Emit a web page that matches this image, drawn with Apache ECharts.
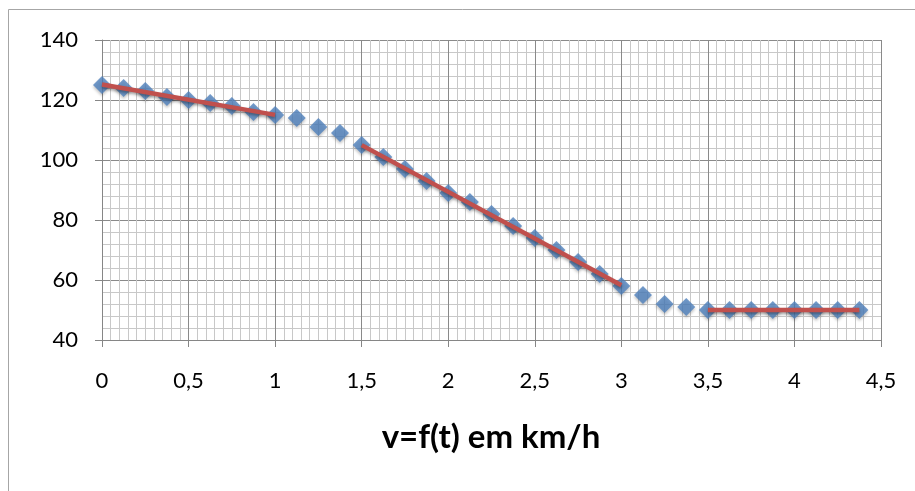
<!DOCTYPE html>
<html lang="pt">

<head>
    <meta charset="UTF-8">
    <title>v=f(t) em km/h</title>
    <script src="https://cdn.jsdelivr.net/npm/echarts@6.0.0/dist/echarts.min.js"></script>
    <style>
        body { margin: 0; background: #fff; }
    </style>
</head>

<body>
    <div id="main" style="width: 915px;height:491px;"></div>

    <script type="text/javascript">
        // tempo (s) e velocidade (km/h)
        const tempos = [0, 0.125, 0.25, 0.375, 0.5, 0.625, 0.75, 0.875, 1,
            1.125, 1.25, 1.375, 1.5, 1.625, 1.75, 1.875, 2,
            2.125, 2.25, 2.375, 2.5, 2.625, 2.75, 2.875, 3,
            3.125, 3.25, 3.375, 3.5, 3.625, 3.75, 3.875, 4,
            4.125, 4.25, 4.375];
        const velocidades = [125, 124, 123, 121, 120, 119, 118, 116, 115,
            114, 111, 109, 105, 101, 97, 93, 89,
            86, 82, 78, 74, 70, 66, 62, 58,
            55, 52, 51, 50, 50, 50, 50, 50,
            50, 50, 50];
        // trechos com linha de tendência (início e fim em segundos)
        const trechos = [[0, 1], [1.5, 3], [3.5, 4.375]];

        const pontos = tempos.map((t, i) => [t, velocidades[i]]);

        // regressão linear simples em cada trecho
        function tendencia(ini, fim) {
            const sel = pontos.filter(p => p[0] >= ini && p[0] <= fim);
            const n = sel.length;
            const mx = sel.reduce((s, p) => s + p[0], 0) / n;
            const my = sel.reduce((s, p) => s + p[1], 0) / n;
            let num = 0, den = 0;
            sel.forEach(p => { num += (p[0] - mx) * (p[1] - my); den += (p[0] - mx) ** 2; });
            const a = den ? num / den : 0;
            const b = my - a * mx;
            return [[ini, a * ini + b], [fim, a * fim + b]];
        }

        const fonte = 'Lato';
        const virgula = v => String(v).replace('.', ',');

        const chart = echarts.init(document.getElementById('main'));

        const linhas = trechos.map(tr => ({
            type: 'line',
            data: tendencia(tr[0], tr[1]),
            showSymbol: false,
            silent: true,
            z: 3,
            lineStyle: {
                color: '#C0504D',
                width: 4.5,
                shadowColor: 'rgba(0,0,0,0.35)',
                shadowBlur: 3,
                shadowOffsetY: 2
            }
        }));

        const option = {
            animation: false,
            grid: { left: 102, top: 40, width: 779, height: 300 },
            xAxis: {
                type: 'value',
                min: 0, max: 4.5, interval: 0.5,
                axisLine: { show: true, onZero: false, lineStyle: { color: '#868686' } },
                axisTick: { show: true, length: 7, lineStyle: { color: '#868686' } },
                axisLabel: { color: '#000', fontFamily: fonte, fontSize: 22, margin: 30, formatter: virgula },
                splitLine: { show: true, lineStyle: { color: '#8a8a8a' } },
                minorSplitLine: { show: true, lineStyle: { color: '#c8c8c8' } },
                minorTick: { show: false, splitNumber: 10 }
            },
            yAxis: {
                type: 'value',
                min: 40, max: 140, interval: 20,
                axisLine: { show: true, lineStyle: { color: '#868686' } },
                axisTick: { show: true, length: 7, lineStyle: { color: '#868686' } },
                axisLabel: { color: '#000', fontFamily: fonte, fontSize: 22, margin: 24 },
                splitLine: { show: true, lineStyle: { color: '#8a8a8a' } },
                minorSplitLine: { show: true, lineStyle: { color: '#c8c8c8' } },
                minorTick: { show: false, splitNumber: 5 }
            },
            graphic: [
                {
                    type: 'rect',
                    shape: { x: 8.5, y: 9.5, width: 1000, height: 1000 },
                    style: { fill: 'none', stroke: '#a6a6a6', lineWidth: 1 },
                    silent: true
                },
                {
                    type: 'text',
                    x: 491, y: 437,
                    style: {
                        text: 'v=f(t) em km/h',
                        fontFamily: fonte,
                        fontWeight: 'bold',
                        fontSize: 33,
                        fill: '#000',
                        align: 'center',
                        verticalAlign: 'middle'
                    }
                }
            ],
            series: [
                {
                    type: 'scatter',
                    data: pontos,
                    symbol: 'diamond',
                    symbolSize: [18, 18],
                    z: 2,
                    itemStyle: {
                        color: '#4F81BD',
                        shadowColor: 'rgba(0,0,0,0.3)',
                        shadowBlur: 3,
                        shadowOffsetY: 2
                    }
                }
            ].concat(linhas)
        };

        chart.setOption(option);
    </script>
</body>

</html>
